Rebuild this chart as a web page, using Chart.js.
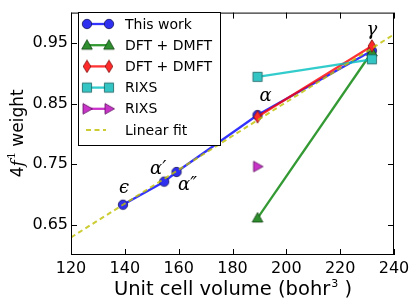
<!DOCTYPE html>
<html>
<head>
<meta charset="utf-8">
<script src="https://cdn.jsdelivr.net/npm/chart.js@4.4.1/dist/chart.umd.min.js"></script>
<style>
  html, body { margin: 0; padding: 0; background: #fff; }
  #wrap { width: 415px; height: 305px; position: relative; }
</style>
</head>
<body>
<div id="wrap"><canvas id="chart"></canvas></div>
<script>
// values
const phaseLabels = ["ϵ", "α′", "α″", "α", "γ"];
const thisWorkVol = [139.3, 154.6, 159.2, 189.3, 231.8];
const thisWorkW = [0.683, 0.721, 0.737, 0.831, 0.937];
const dmftVol = [189.3, 231.8];
const dmftAW = [0.661, 0.935];
const dmftBW = [0.828, 0.945];
const rixsAVol = [189.3, 231.8];
const rixsAW = [0.894, 0.923];
const rixsBVol = [189.3];
const rixsBW = [0.746];
const fitVol = [120, 240];
const fitW = [0.629, 0.964];
const xTicks = [120, 140, 160, 180, 200, 220, 240];
const yTicks = [0.65, 0.75, 0.85, 0.95];
const legendLabels = ["This work", "DFT + DMFT", "DFT + DMFT", "RIXS", "RIXS", "Linear fit"];

const SANS = "'DejaVu Sans', sans-serif";
const SERIF = "'DejaVu Serif', serif";

const col = {
  blue: "rgba(0,0,255,0.8)",
  green: "rgba(0,128,0,0.8)",
  red: "rgba(255,0,0,0.8)",
  cyan: "rgba(0,191,191,0.8)",
  magenta: "rgba(191,0,191,0.8)",
  yellow: "rgba(191,191,0,0.8)"
};

function makeMarker(shape, fill, stroke) {
  const c = document.createElement("canvas");
  const s = 14;
  c.width = s; c.height = s;
  const g = c.getContext("2d");
  g.fillStyle = fill;
  g.strokeStyle = stroke;
  g.lineWidth = 0.8;
  g.beginPath();
  const m = s / 2;
  if (shape === "circle") g.arc(m, m, 4.7, 0, Math.PI * 2);
  else if (shape === "triangle") { g.moveTo(m, m - 5.5); g.lineTo(m + 5.3, m + 4); g.lineTo(m - 5.3, m + 4); g.closePath(); }
  else if (shape === "thinDiamond") { g.moveTo(m, m - 6.2); g.lineTo(m + 3.8, m); g.lineTo(m, m + 6.2); g.lineTo(m - 3.8, m); g.closePath(); }
  else if (shape === "square") g.rect(m - 4.6, m - 4.6, 9.2, 9.2);
  else if (shape === "right") { g.moveTo(m + 5.5, m); g.lineTo(m - 4, m - 5.3); g.lineTo(m - 4, m + 5.3); g.closePath(); }
  g.fill();
  g.stroke();
  return c;
}

const markers = {
  blue: makeMarker("circle", "#2f2ff0", "#14145a"),
  green: makeMarker("triangle", "#2f8f2f", "#104010"),
  red: makeMarker("thinDiamond", "#ff2a2a", "#801010"),
  cyan: makeMarker("square", "#33c4c4", "#1a6060"),
  magenta: makeMarker("right", "#c833c8", "#601060")
};

const pts = (xs, ys) => xs.map((x, i) => ({ x, y: ys[i] }));

function series(label, xs, ys, color, marker, order) {
  return {
    label, data: pts(xs, ys), borderColor: color, backgroundColor: color,
    borderWidth: 2.3, pointStyle: marker, pointRadius: 6, pointHoverRadius: 6,
    showLine: true, order
  };
}

const datasets = [
  series("This work", thisWorkVol, thisWorkW, col.blue, markers.blue, 5),
  series("DFT + DMFT", dmftVol, dmftAW, col.green, markers.green, 4),
  series("DFT + DMFT", dmftVol, dmftBW, col.red, markers.red, 3),
  series("RIXS", rixsAVol, rixsAW, col.cyan, markers.cyan, 2),
  series("RIXS", rixsBVol, rixsBW, col.magenta, markers.magenta, 1),
  {
    label: "Linear fit", data: pts(fitVol, fitW), borderColor: col.yellow,
    borderWidth: 2, borderDash: [5, 3.5], pointRadius: 0, showLine: true, order: 0
  }
];

const frameAndText = {
  id: "frameAndText",
  afterDatasetsDraw(chart) {
    const { ctx, chartArea: a, scales } = chart;
    const xs = scales.x, ys = scales.y;
    ctx.save();
    // frame
    ctx.strokeStyle = "#000";
    ctx.lineWidth = 1;
    ctx.strokeRect(a.left + 0.5, a.top + 0.5, a.right - a.left - 1, a.bottom - a.top - 1);
    // inward ticks
    ctx.beginPath();
    xTicks.forEach((v) => {
      const px = Math.round(xs.getPixelForValue(v)) + 0.5;
      ctx.moveTo(px, a.bottom); ctx.lineTo(px, a.bottom - 6);
      ctx.moveTo(px, a.top); ctx.lineTo(px, a.top + 6);
    });
    yTicks.forEach((v) => {
      const py = Math.round(ys.getPixelForValue(v)) + 0.5;
      ctx.moveTo(a.left, py); ctx.lineTo(a.left + 6, py);
      ctx.moveTo(a.right, py); ctx.lineTo(a.right - 6, py);
    });
    ctx.stroke();

    // phase labels next to "This work" points
    const offs = [[1, -16], [-6, -12], [11, 13], [8, -19], [0, -20]];
    ctx.fillStyle = "#000";
    ctx.font = "italic 18px " + SERIF;
    ctx.textAlign = "center";
    ctx.textBaseline = "middle";
    phaseLabels.forEach((t, i) => {
      const px = xs.getPixelForValue(thisWorkVol[i]) + offs[i][0];
      const py = ys.getPixelForValue(thisWorkW[i]) + offs[i][1];
      ctx.fillText(t, px, py);
    });

    // legend
    const lx = 78.5, ly = 12.5, lw = 142, lh = 133;
    ctx.fillStyle = "#fff";
    ctx.fillRect(lx, ly, lw, lh);
    ctx.strokeStyle = "#000";
    ctx.strokeRect(lx, ly, lw, lh);
    ctx.textAlign = "left";
    ctx.font = "14px " + SANS;
    datasets.forEach((d, i) => {
      const y = 24 + i * 21.2;
      ctx.strokeStyle = d.borderColor;
      ctx.lineWidth = d.borderWidth;
      ctx.setLineDash(d.borderDash || []);
      ctx.beginPath();
      ctx.moveTo(d.borderDash ? 86 : 84, y); ctx.lineTo(d.borderDash ? 106 : 110, y);
      ctx.stroke();
      ctx.setLineDash([]);
      if (d.pointRadius) {
        ctx.drawImage(d.pointStyle, 87 - 7, y - 7);
        ctx.drawImage(d.pointStyle, 109 - 7, y - 7);
      }
      ctx.fillStyle = "#000";
      ctx.fillText(legendLabels[i], 125, y + 1);
    });

    // x axis title
    ctx.textBaseline = "alphabetic";
    const t1 = "Unit cell volume (bohr", t2 = "3", t3 = " )";
    const big = "19.5px " + SANS, small = "11px " + SANS;
    ctx.font = big;
    const w1 = ctx.measureText(t1).width, w3 = ctx.measureText(t3).width;
    ctx.font = small;
    const w2 = ctx.measureText(t2).width;
    let x0 = (a.left + a.right) / 2 - (w1 + w2 + w3) / 2;
    const by = 295;
    ctx.font = big; ctx.fillText(t1, x0, by); x0 += w1 + 1;
    ctx.font = small; ctx.fillText(t2, x0, by - 8); x0 += w2;
    ctx.font = big; ctx.fillText(t3, x0, by);

    // y axis title: 4f^1 weight
    ctx.translate(23, (a.top + a.bottom) / 2);
    ctx.rotate(-Math.PI / 2);
    const parts = [
      ["4", "17px " + SANS, 0],
      ["f", "italic 17px " + SERIF, 0],
      ["1", "11px " + SERIF, -8],
      [" weight", "17px " + SANS, 0]
    ];
    let tw = 0;
    parts.forEach((p) => { ctx.font = p[1]; p.push(ctx.measureText(p[0]).width); tw += p[3]; });
    let cx = -tw / 2;
    parts.forEach((p) => { ctx.font = p[1]; ctx.fillText(p[0], cx, p[2]); cx += p[3] + (p[0] === "f" ? 1 : 0); });
    ctx.restore();
  }
};

new Chart(document.getElementById("chart"), {
  type: "line",
  data: { datasets },
  options: {
    responsive: true,
    maintainAspectRatio: false,
    animation: false,
    events: [],
    layout: { padding: { left: 0, top: 5, right: 21, bottom: 0 } },
    plugins: { legend: { display: false }, tooltip: { enabled: false } },
    scales: {
      x: {
        type: "linear", min: 120, max: 240,
        afterBuildTicks: (s) => { s.ticks = xTicks.map((v) => ({ value: v })); },
        afterFit: (s) => { s.height = 50; },
        grid: { display: false, drawTicks: false },
        border: { display: false },
        ticks: { padding: 4, color: "#000", font: { family: SANS, size: 16 } }
      },
      y: {
        type: "linear", min: 0.6, max: 1.0,
        afterBuildTicks: (s) => { s.ticks = yTicks.map((v) => ({ value: v })); },
        afterFit: (s) => { s.width = 71; },
        grid: { display: false, drawTicks: false },
        border: { display: false },
        ticks: { padding: 3, color: "#000", font: { family: SANS, size: 16 }, callback: (v) => v.toFixed(2) }
      }
    }
  },
  plugins: [frameAndText]
});
</script>
</body>
</html>
